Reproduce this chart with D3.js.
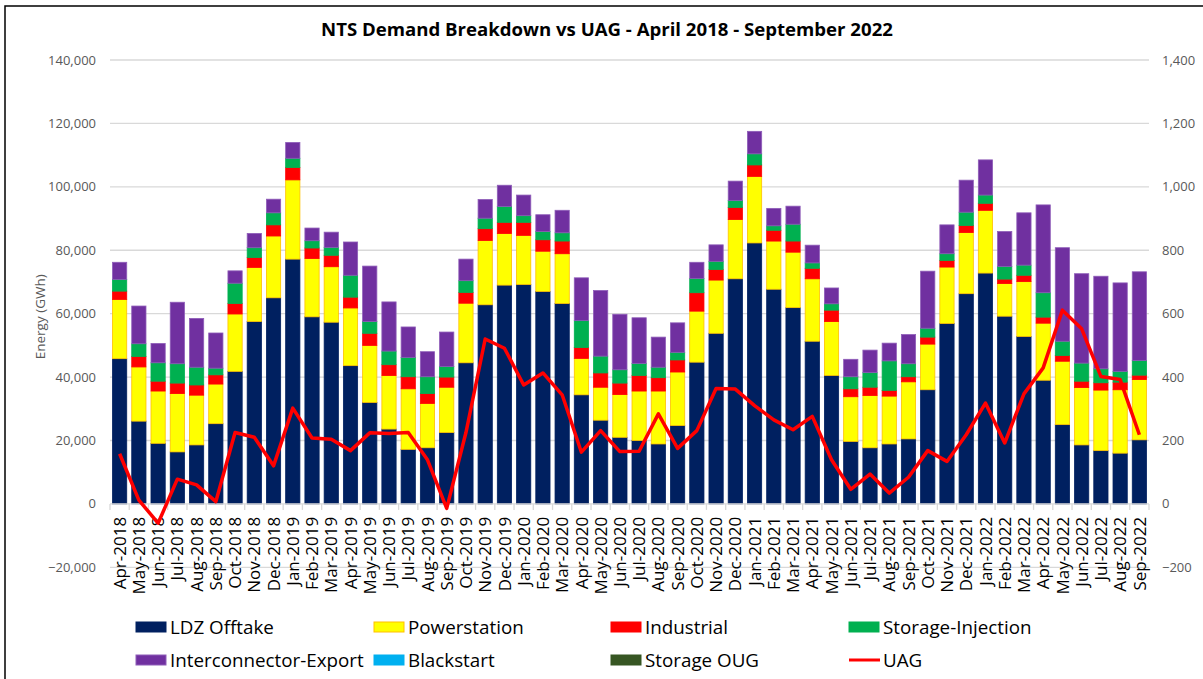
<!DOCTYPE html>
<html><head><meta charset="utf-8">
<script src="https://cdn.jsdelivr.net/npm/d3@7"></script>
<style>body{margin:0;background:#fff} svg{display:block} text{font-family:"Open Sans",sans-serif}</style>
</head><body><svg id="c" width="1203" height="679"></svg>
<script>
const months = ["Apr-2018","May-2018","Jun-2018","Jul-2018","Aug-2018","Sep-2018","Oct-2018","Nov-2018","Dec-2018","Jan-2019","Feb-2019","Mar-2019",
"Apr-2019","May-2019","Jun-2019","Jul-2019","Aug-2019","Sep-2019","Oct-2019","Nov-2019","Dec-2019","Jan-2020","Feb-2020","Mar-2020",
"Apr-2020","May-2020","Jun-2020","Jul-2020","Aug-2020","Sep-2020","Oct-2020","Nov-2020","Dec-2020","Jan-2021","Feb-2021","Mar-2021",
"Apr-2021","May-2021","Jun-2021","Jul-2021","Aug-2021","Sep-2021","Oct-2021","Nov-2021","Dec-2021","Jan-2022","Feb-2022","Mar-2022",
"Apr-2022","May-2022","Jun-2022","Jul-2022","Aug-2022","Sep-2022"];
const ldzOfftake = [45800,26100,19100,16400,18600,25300,41800,57500,65000,77200,59000,57300,
43600,32000,23600,17200,17700,22500,44500,62800,69000,69200,67000,63200,
34400,26400,21000,20000,18900,24700,44700,53800,71000,82300,67700,61900,
51300,40500,19700,17700,18900,20500,36000,56900,66300,72800,59200,52800,
39000,25000,18600,16800,16000,20200];
const powerstation = [18700,17100,16500,18400,15700,12500,18100,17100,19500,25000,18400,17500,
18200,18000,16900,19100,14000,14300,18800,20300,16300,15500,12700,15700,
11500,10400,13500,15600,16700,16900,16100,16800,18700,21000,15200,17500,
19700,17000,14100,16500,15100,18000,14400,17800,19300,19800,10300,17300,
18000,20000,18100,19100,20000,19000];
const industrial = [2600,3300,3100,3300,3200,2900,3300,3100,3500,3900,3300,3600,
3400,3800,3400,3800,3100,3200,3400,3700,3500,4100,3600,4000,
3400,4500,3600,4900,4200,3800,5800,3300,3800,3600,3400,3500,
3300,3600,2500,2600,1800,1600,2200,2100,2200,2200,1400,2000,
1900,1800,2000,2300,2400,1400];
const storageInjection = [3700,4000,5800,6100,5600,2100,6400,3100,3800,2900,2300,2500,
6900,3700,4300,6100,5300,3300,3700,3300,5000,2100,2600,2600,
8500,5300,4200,3800,3300,2400,4500,2600,2200,3500,1400,5300,
1700,2000,3800,4600,9300,4100,2800,2100,4200,2600,4000,3200,
7700,4500,5700,4400,3400,4600];
const interconnectorExport = [5400,11900,6100,19400,15400,11100,3900,4500,4300,5000,4000,4800,
10500,17500,15500,9600,7900,10900,6800,5900,6700,6500,5300,7100,
13500,20700,17500,14400,9500,9300,5100,5200,6100,7100,5500,5700,
5600,5000,5500,7100,5600,9200,18000,9100,10100,11100,11000,16500,
27700,29500,28200,29200,27900,28000];
const blackstart = [0,0,0,0,0,0,0,0,0,0,0,0, 0,0,0,0,0,0,0,0,0,0,0,0, 0,0,0,0,0,0,0,0,0,0,0,0, 0,0,0,0,0,0,0,0,0,0,0,0, 0,0,0,0,0,0];
const storageOUG = [0,0,0,0,0,0,0,0,0,0,0,0, 0,0,0,0,0,0,0,0,0,0,0,0, 0,0,0,0,0,0,0,0,0,0,0,0, 0,0,0,0,0,0,0,0,0,0,0,0, 0,0,0,0,0,0];
const uag = [158,12,-61,78,60,7,225,210,120,302,208,204,
168,224,222,225,139,-14,225,520,491,375,413,344,
163,231,165,166,284,175,231,364,362,310,265,234,
276,139,46,94,34,84,168,134,218,318,192,347,
429,611,552,402,392,218];
const leftTicks = [-20000,0,20000,40000,60000,80000,100000,120000,140000];
const rightTicks = [-200,0,200,400,600,800,1000,1200,1400];

const seriesNames = ["LDZ Offtake","Powerstation","Industrial","Storage-Injection","Interconnector-Export","Blackstart","Storage OUG"];
const seriesData = [ldzOfftake,powerstation,industrial,storageInjection,interconnectorExport,blackstart,storageOUG];
const fills = ["#002060","#ffff00","#ff0000","#00b050","#7030a0","#00b0f0","#375623"];
const strokes = ["#002060","#ffc000","#ff0000","#00b050","#8e5cb8","#00b0f0","#375623"];

const svg = d3.select("#c");
svg.append("rect").attr("x",5).attr("y",6).attr("width",1220).attr("height",700).attr("fill","#fff").attr("stroke","#000").attr("stroke-width",1.5);

const x = d3.scaleBand().domain(months).range([110,1149]).paddingInner(0.26).paddingOuter(0.13);
const y = d3.scaleLinear().domain([-20000,140000]).range([567.3,60]);
const y2 = d3.scaleLinear().domain([-200,1400]).range([567.3,60]);

// gridlines
svg.append("g").selectAll("line").data(leftTicks.filter(d=>d!==0)).join("line")
  .attr("x1",110).attr("x2",1149).attr("y1",d=>y(d)).attr("y2",d=>y(d))
  .attr("stroke","#d9d9d9").attr("stroke-width",1.3);

// axis labels
const fmt = d3.format(",");
svg.append("g").selectAll("text").data(leftTicks).join("text")
  .attr("x",96).attr("y",d=>y(d)).attr("dy","0.35em").attr("text-anchor","end")
  .attr("font-size",13).attr("fill","#595959").text(d=>fmt(d));
svg.append("g").selectAll("text").data(rightTicks).join("text")
  .attr("x",1162).attr("y",d=>y2(d)).attr("dy","0.35em").attr("text-anchor","start")
  .attr("font-size",13).attr("fill","#595959").text(d=>fmt(d));

svg.append("text").attr("transform",`translate(40,${y(59000)}) rotate(-90)`)
  .attr("text-anchor","middle").attr("dy","0.35em").attr("font-size",13.5).attr("fill","#595959").text("Energy (GWh)");

// stacked bars
const rows = months.map((m,i)=>{const o={month:m}; seriesNames.forEach((s,k)=>o[s]=seriesData[k][i]); return o;});
const stack = d3.stack().keys(seriesNames)(rows);
stack.forEach((layer,k)=>{
  svg.append("g").selectAll("rect").data(layer).join("rect")
    .attr("x",d=>x(d.data.month)).attr("width",x.bandwidth())
    .attr("y",d=>y(d[1])).attr("height",d=>Math.max(0,y(d[0])-y(d[1])))
    .attr("fill",fills[k]).attr("stroke",strokes[k]).attr("stroke-width",d=>(d[1]-d[0])>0?0.8:0);
});

// x axis line and ticks
const y0 = y(0);
svg.append("line").attr("x1",110).attr("x2",1149).attr("y1",y0).attr("y2",y0).attr("stroke","#d9d9d9").attr("stroke-width",1.3);
const bounds = d3.range(months.length+1).map(i=>x.range()[0]+i*x.step());
svg.append("g").selectAll("line").data(bounds).join("line")
  .attr("x1",d=>d).attr("x2",d=>d).attr("y1",y0).attr("y2",y0+6).attr("stroke","#d9d9d9").attr("stroke-width",1.3);
svg.append("g").selectAll("text").data(months).join("text")
  .attr("transform",d=>`translate(${x(d)+x.bandwidth()/2},${y0+13}) rotate(-90)`)
  .attr("text-anchor","end").attr("dy","0.36em").attr("font-size",17).attr("fill","#000").text(d=>d);

// UAG line
const line = d3.line().x((d,i)=>x(months[i])+x.bandwidth()/2).y(d=>y2(d));
svg.append("path").datum(uag).attr("d",line).attr("fill","none").attr("stroke","#ff0000").attr("stroke-width",3.5).attr("stroke-linejoin","round");

// title
svg.append("text").attr("x",607).attr("y",36).attr("text-anchor","middle").attr("font-size",18.6).attr("font-weight","bold").attr("fill","#000")
  .text("NTS Demand Breakdown vs UAG - April 2018 - September 2022");

// legend
const legendItems = seriesNames.concat(["UAG"]);
const lx = [136,374,611,849], ly = [627,660];
legendItems.forEach((name,i)=>{
  const gx = lx[i%4], gy = ly[Math.floor(i/4)];
  const g = svg.append("g");
  if(name==="UAG"){
    g.append("line").attr("x1",gx).attr("x2",gx+31).attr("y1",gy).attr("y2",gy).attr("stroke","#ff0000").attr("stroke-width",3);
  } else {
    g.append("rect").attr("x",gx).attr("y",gy-5).attr("width",30).attr("height",10).attr("fill",fills[i]).attr("stroke",strokes[i]).attr("stroke-width",1);
  }
  g.append("text").attr("x",gx+34).attr("y",gy).attr("dy","0.35em").attr("font-size",18.8).attr("fill","#000").text(name);
});
</script></body></html>
